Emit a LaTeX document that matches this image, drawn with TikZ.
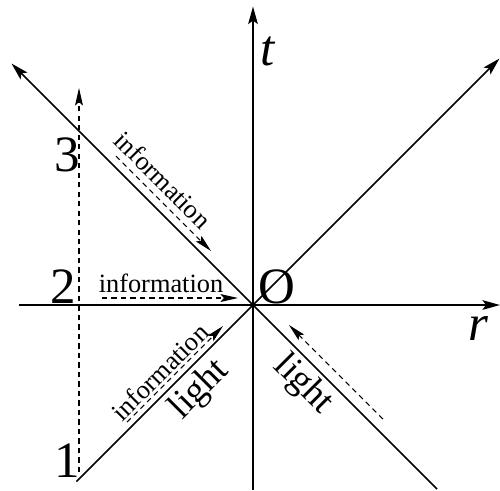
\documentclass[tikz,border=0pt]{standalone}
\usepackage{fontspec}
\setmainfont{Liberation Serif}
\usetikzlibrary{arrows.meta}

\begin{document}
\begin{tikzpicture}[
            axis/.style={line width=1pt, -{Stealth[length=10pt, width=5.5pt, inset=2pt]}},
            ray/.style={line width=0.9pt},
            info/.style={line width=0.6pt, dash pattern=on 3pt off 2.4pt,
            -{Stealth[length=10pt, width=4.5pt, inset=2pt]}},
            big/.style={font=\fontsize{29}{29}\selectfont, inner sep=0pt},
            mid/.style={font=\fontsize{21}{21}\selectfont, inner sep=0pt},
            small/.style={font=\fontsize{15}{15}\selectfont, inner sep=0pt},
        ]
            \useasboundingbox (-5.06,-3.7) rectangle (4.94,6.1);

            %% Achsen
            \coordinate (O)    at (0,0);
            \coordinate (rlo)  at (-4.68,0);
            \coordinate (rhi)  at (4.94,0);
            \coordinate (tlo)  at (0,-3.7);
            \coordinate (thi)  at (0,5.97);
            \draw[axis] (rlo) -- (rhi);
            \draw[axis] (tlo) -- (thi);

            %% Lichtkegel
            \coordinate (swEnd) at (-3.53,-3.53);
            \coordinate (neEnd) at (4.93,4.93);
            \coordinate (nwEnd) at (-4.83,4.83);
            \coordinate (seEnd) at (3.68,-3.68);
            \draw[ray, -{Stealth[length=10pt, width=5.5pt, inset=2pt]}] (swEnd) -- (neEnd);
            \draw[ray, -{Stealth[length=10pt, width=5.5pt, inset=2pt]}] (seEnd) -- (nwEnd);

            %% Weltlinie
            \coordinate (wlLo) at (-3.48,-3.34);
            \coordinate (wlHi) at (-3.48,4.34);
            \draw[info] (wlLo) -- (wlHi);

            %% Informationspfeile
            \coordinate (a1) at (-3.02,0.14);
            \coordinate (a2) at (-0.3,0.14);
            \draw[info] (a1) -- (a2);
            \coordinate (b1) at (-2.74,2.98);
            \coordinate (b2) at (-0.84,1.08);
            \draw[info] (b1) -- (b2);
            \coordinate (c1) at (-2.52,-2.34);
            \coordinate (c2) at (-0.6,-0.42);
            \draw[info] (c1) -- (c2);
            \coordinate (d1) at (2.6,-2.28);
            \coordinate (d2) at (0.72,-0.4);
            \draw[info] (d1) -- (d2);

            %% Beschriftung
            \node[big] (n3) at (-3.72,3.0)   {3};
            \node[big] (n2) at (-3.8,0.36)   {2};
            \node[big] (n1) at (-3.72,-3.12) {1};
            \node[big] (nO) at (0.48,0.36)   {O};
            \node[big] (nt) at (0.3,5.08)    {\itshape t};
            \node[big] (nr) at (4.5,-0.46)   {\itshape r};

            \node[small] (i2) at (-1.84,0.44) {information};
            \node[small, rotate=-45] (i3) at (-1.8,2.5)   {information};
            \node[small, rotate=45]  (i1) at (-1.86,-1.34) {information};
            \node[mid, rotate=45]    (l1) at (-1.06,-1.7) {light};
            \node[mid, rotate=-45]   (l2) at (1.0,-1.6)   {light};

        \end{tikzpicture}
\end{document}
